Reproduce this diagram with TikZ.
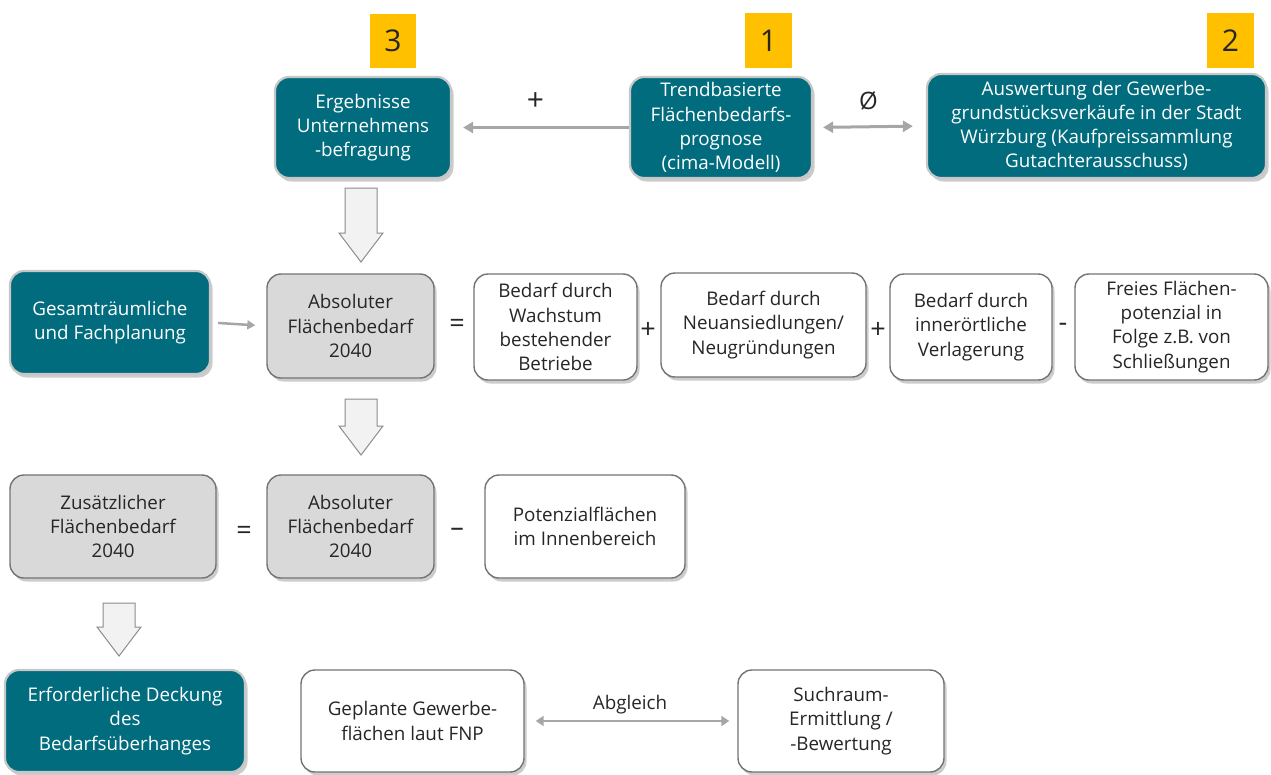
\documentclass[tikz,border=0pt]{standalone}
\usepackage{fontspec}
\setmainfont{Open Sans}
\usetikzlibrary{shadows,arrows.meta}
\definecolor{tealc}{RGB}{0,108,126}
\definecolor{boxgray}{RGB}{217,217,217}
\definecolor{arrgray}{RGB}{166,166,166}
\definecolor{badge}{RGB}{255,192,0}
\definecolor{txt}{RGB}{38,38,38}
\newcommand\hollowarrow[3]{%
  \draw[hollowstyle] ({#1-16},#2) -- ({#1+16},#2) -- ({#1+16},{#3-29}) -- ({#1+22},{#3-29})
    -- (#1,#3) -- ({#1-22},{#3-29}) -- ({#1-16},{#3-29}) -- cycle;}
\tikzset{
  x=1pt, y=-1pt,
  base/.style={rounded corners=14pt, align=center, inner sep=0pt,
    font=\fontsize{18.8}{24.2}\selectfont,
    drop shadow={opacity=0.4, shadow xshift=2.5pt, shadow yshift=-3.5pt}},
  tealbox/.style={base, fill=tealc, draw=black!22, line width=2.2pt, text=white},
  graybox/.style={base, fill=boxgray, draw=black!55, line width=1.4pt, text=txt},
  whitebox/.style={base, fill=white, draw=black!55, line width=1.4pt, text=txt},
  badgebox/.style={fill=badge, inner sep=0pt, font=\fontsize{30}{30}\selectfont, text=txt},
  conn/.style={draw=arrgray, line width=3pt, -{Triangle[length=10pt,width=11pt]}},
  dconn/.style={draw=arrgray, line width=3pt, {Triangle[length=10pt,width=11pt]}-{Triangle[length=10pt,width=11pt]}},
  op/.style={font=\fontsize{27}{27}\selectfont, text=txt, inner sep=0pt},
  lbl/.style={font=\fontsize{24}{24}\selectfont, text=txt, inner sep=0pt},
  hollowstyle/.style={fill=black!5, draw=black!45, line width=1pt, line join=miter},
}
\begin{document}
\begin{tikzpicture}
\useasboundingbox (0,0) rectangle (1271,774);

% badges
\node[badgebox, minimum width=46, minimum height=54] (b3) at (393,41) {3};
\node[badgebox, minimum width=47, minimum height=55] (b1) at (768.5,40.5) {1};
\node[badgebox, minimum width=47, minimum height=55] (b2) at (1230.5,40.5) {2};

% top row
\node[tealbox, minimum width=176, minimum height=101] (erg) at (363,127.5) {Ergebnisse\\Unternehmens\\-befragung};
\node[tealbox, minimum width=182, minimum height=101] (trend) at (721,127.5) {Trendbasierte\\Flächenbedarfs-\\prognose\\(cima-Modell)};
\node[tealbox, minimum width=339, minimum height=104] (ausw) at (1096.5,126) {Auswertung der Gewerbe-\\grundstücksverkäufe in der Stadt\\Würzburg (Kaufpreissammlung\\Gutachterausschuss)};

\draw[conn, shorten >=11pt] (trend.west) -- (erg.east) node[lbl, font=\fontsize{30}{30}\selectfont, midway, yshift=26, xshift=-5] (plus0) {+};
\draw[dconn, shorten <=10pt, shorten >=13pt] (trend.east) -- (ausw.west) node[lbl, midway, yshift=26, xshift=-1] (oslash) {Ø};

% middle row
\node[tealbox, minimum width=200, minimum height=103] (gesamt) at (110,322.5) {Gesamträumliche\\und Fachplanung};
\node[graybox, minimum width=167, minimum height=104] (abs1) at (350.5,326) {Absoluter\\Flächenbedarf\\2040};
\node[whitebox, minimum width=163, minimum height=106] (wachs) at (555.5,327) {Bedarf durch\\Wachstum\\bestehender\\Betriebe};
\node[whitebox, minimum width=205, minimum height=104] (neu) at (763.5,325) {Bedarf durch\\Neuansiedlungen/\\Neugründungen};
\node[whitebox, minimum width=162, minimum height=106] (inner) at (971,327) {Bedarf durch\\innerörtliche\\Verlagerung};
\node[whitebox, minimum width=193, minimum height=106] (freies) at (1171.5,327) {Freies Flächen-\\potenzial in\\Folge z.B. von\\Schließungen};

\draw[conn, line width=2.5pt, -{Triangle[length=8pt,width=9pt]}, shorten <=7pt, shorten >=11pt] (gesamt.east) -- (abs1.west);

\node[op] (eq1) at (457,326) {=};
\node[op] (pl1) at (648,330) {+};
\node[op] (pl2) at (878,330) {+};
\node[op] (mi1) at (1063,327) {-};

% third row
\node[graybox, minimum width=206, minimum height=103] (zus) at (113,526.5) {Zusätzlicher\\Flächenbedarf\\2040};
\node[graybox, minimum width=167, minimum height=103] (abs2) at (350.5,526.5) {Absoluter\\Flächenbedarf\\2040};
\node[whitebox, minimum width=200, minimum height=103] (pot) at (585,526.5) {Potenzialflächen\\im Innenbereich};
\node[op] (eq2) at (244,533) {=};
\node[op] (mi2) at (457,532) {–};

% bottom row
\node[tealbox, minimum width=240, minimum height=102] (erf) at (125,721) {Erforderliche Deckung\\des\\Bedarfsüberhanges};
\node[whitebox, minimum width=223, minimum height=102] (gep) at (412.5,721) {Geplante Gewerbe-\\flächen laut FNP};
\node[whitebox, minimum width=206, minimum height=102] (such) at (841,721) {Suchraum-\\Ermittlung /\\-Bewertung};
\draw[dconn, line width=2.5pt, {Triangle[length=8pt,width=10pt]}-{Triangle[length=8pt,width=10pt]}, shorten <=11pt, shorten >=8pt] (gep.east) -- (such.west) node[lbl, font=\fontsize{18.8}{20}\selectfont, midway, yshift=16, xshift=-1] (abgl) {Abgleich};

% hollow arrows
\hollowarrow{361}{188}{262}
\hollowarrow{361}{399}{455}
\hollowarrow{119}{603}{656}
\end{tikzpicture}
\end{document}
